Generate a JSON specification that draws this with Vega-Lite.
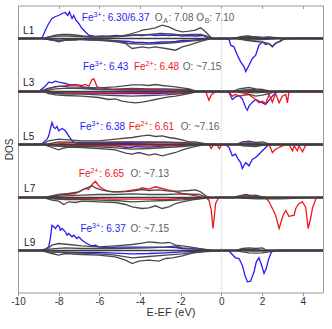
{
"$schema":"https://vega.github.io/schema/vega-lite/v6.json",
"width":305,"height":287,
"autosize":"none",
"padding":{"left":18,"top":5.5,"right":9,"bottom":36.5},
"config":{"font":"Liberation Sans","view":{"stroke":"#9a9a9a","strokeWidth":1},"axis":{"grid":false}},
"datasets":{
"zero":[{"e":0}],
"panels":[{"p":1},{"p":3},{"p":5},{"p":7},{"p":9}],
"notes":[
{"p":1,"e":-9.75,"v":8,"t":"L1","k":"T","z":"n"},
{"p":3,"e":-9.75,"v":8.5,"t":"L3","k":"T","z":"n"},
{"p":5,"e":-9.75,"v":8,"t":"L5","k":"T","z":"n"},
{"p":7,"e":-9.7,"v":9,"t":"L7","k":"T","z":"n"},
{"p":9,"e":-9.7,"v":8,"t":"L9","k":"T","z":"n"},
{"p":1,"e":-6.86,"v":20.7,"t":"Fe","k":"B1","z":"n"},
{"p":1,"e":-6.285,"v":20.7,"t":"3+","k":"B1","z":"u"},
{"p":1,"e":-5.86,"v":20.7,"t":": 6.30/6.37","k":"B1","z":"n"},
{"p":1,"e":-3.27,"v":20.7,"t":"O","k":"GT","z":"n"},
{"p":1,"e":-2.86,"v":20.7,"t":"A","k":"GT","z":"s"},
{"p":1,"e":-2.6,"v":20.7,"t":": 7.08 O","k":"GT","z":"n"},
{"p":1,"e":-0.82,"v":20.7,"t":"B","k":"GT","z":"s"},
{"p":1,"e":-0.59,"v":20.7,"t":": 7.10","k":"GT","z":"n"},
{"p":3,"e":-6.8,"v":25,"t":"Fe","k":"B1","z":"n"},
{"p":3,"e":-6.225,"v":25,"t":"3+","k":"B1","z":"u"},
{"p":3,"e":-5.8,"v":25,"t":": 6.43","k":"B1","z":"n"},
{"p":3,"e":-4.3,"v":25,"t":"Fe","k":"R1","z":"n"},
{"p":3,"e":-3.725,"v":25,"t":"2+","k":"R1","z":"u"},
{"p":3,"e":-3.31,"v":25,"t":": 6.48","k":"R1","z":"n"},
{"p":3,"e":-1.9,"v":25,"t":"O: ~7.15","k":"GT","z":"n"},
{"p":5,"e":-6.96,"v":18,"t":"Fe","k":"B1","z":"n"},
{"p":5,"e":-6.385,"v":18,"t":"3+","k":"B1","z":"u"},
{"p":5,"e":-5.96,"v":18,"t":": 6.38","k":"B1","z":"n"},
{"p":5,"e":-4.55,"v":18,"t":"Fe","k":"R1","z":"n"},
{"p":5,"e":-3.975,"v":18,"t":"2+","k":"R1","z":"u"},
{"p":5,"e":-3.55,"v":18,"t":": 6.61","k":"R1","z":"n"},
{"p":5,"e":-2.0,"v":18,"t":"O: ~7.16","k":"GT","z":"n"},
{"p":7,"e":-7.01,"v":23.3,"t":"Fe","k":"R1","z":"n"},
{"p":7,"e":-6.435,"v":23.3,"t":"2+","k":"R1","z":"u"},
{"p":7,"e":-6.01,"v":23.3,"t":": 6.65","k":"R1","z":"n"},
{"p":7,"e":-4.47,"v":23.3,"t":"O: ~7.13","k":"GT","z":"n"},
{"p":9,"e":-6.93,"v":22,"t":"Fe","k":"B1","z":"n"},
{"p":9,"e":-6.355,"v":22,"t":"3+","k":"B1","z":"u"},
{"p":9,"e":-5.93,"v":22,"t":": 6.37","k":"B1","z":"n"},
{"p":9,"e":-4.47,"v":22,"t":"O: ~7.15","k":"GT","z":"n"}
],
"dos":[
{"p":1,"k":"B1","e":-10,"v":0},{"p":1,"k":"B1","e":-9.15,"v":0},{"p":1,"k":"B1","e":-8.82,"v":0.3},{"p":1,"k":"B1","e":-8.66,"v":8},{"p":1,"k":"B1","e":-8.49,"v":15},{"p":1,"k":"B1","e":-8.33,"v":20},{"p":1,"k":"B1","e":-8.16,"v":22},{"p":1,"k":"B1","e":-8.0,"v":23},{"p":1,"k":"B1","e":-7.83,"v":25},{"p":1,"k":"B1","e":-7.67,"v":26},{"p":1,"k":"B1","e":-7.55,"v":23},{"p":1,"k":"B1","e":-7.47,"v":26.5},{"p":1,"k":"B1","e":-7.34,"v":20},{"p":1,"k":"B1","e":-7.26,"v":23},{"p":1,"k":"B1","e":-7.14,"v":18},{"p":1,"k":"B1","e":-7.01,"v":15},{"p":1,"k":"B1","e":-6.85,"v":10},{"p":1,"k":"B1","e":-6.69,"v":6.7},{"p":1,"k":"B1","e":-6.52,"v":3.3},{"p":1,"k":"B1","e":-6.19,"v":2},{"p":1,"k":"B1","e":-5.86,"v":2.5},{"p":1,"k":"B1","e":-5.54,"v":2},{"p":1,"k":"B1","e":-5.21,"v":3},{"p":1,"k":"B1","e":-4.88,"v":2.5},{"p":1,"k":"B1","e":-4.55,"v":3},{"p":1,"k":"B1","e":-4.22,"v":3.5},{"p":1,"k":"B1","e":-3.89,"v":3},{"p":1,"k":"B1","e":-3.57,"v":4},{"p":1,"k":"B1","e":-3.24,"v":3},{"p":1,"k":"B1","e":-2.91,"v":3.5},{"p":1,"k":"B1","e":-2.58,"v":3},{"p":1,"k":"B1","e":-2.25,"v":3.5},{"p":1,"k":"B1","e":-1.92,"v":2.5},{"p":1,"k":"B1","e":-1.59,"v":3},{"p":1,"k":"B1","e":-1.27,"v":2.5},{"p":1,"k":"B1","e":-0.94,"v":3},{"p":1,"k":"B1","e":-0.61,"v":0.5},{"p":1,"k":"B1","e":-0.4,"v":0},{"p":1,"k":"B1","e":0.7,"v":0},{"p":1,"k":"B1","e":1.03,"v":1.5},{"p":1,"k":"B1","e":1.36,"v":2},{"p":1,"k":"B1","e":1.69,"v":1.5},{"p":1,"k":"B1","e":2.02,"v":1},{"p":1,"k":"B1","e":2.35,"v":1.5},{"p":1,"k":"B1","e":2.67,"v":0.5},{"p":1,"k":"B1","e":3.0,"v":0},{"p":1,"k":"B1","e":5,"v":0},
{"p":1,"k":"B2","e":-10,"v":0},{"p":1,"k":"B2","e":-8.8,"v":0},{"p":1,"k":"B2","e":-8.49,"v":-1},{"p":1,"k":"B2","e":-8.0,"v":-2},{"p":1,"k":"B2","e":-7.5,"v":-1},{"p":1,"k":"B2","e":-7.0,"v":-1},{"p":1,"k":"B2","e":-6.5,"v":-1.5},{"p":1,"k":"B2","e":-6.0,"v":-1.5},{"p":1,"k":"B2","e":-5.5,"v":-2},{"p":1,"k":"B2","e":-5.0,"v":-2.5},{"p":1,"k":"B2","e":-4.55,"v":-3},{"p":1,"k":"B2","e":-4.22,"v":-4},{"p":1,"k":"B2","e":-3.89,"v":-4},{"p":1,"k":"B2","e":-3.57,"v":-4.5},{"p":1,"k":"B2","e":-3.24,"v":-4},{"p":1,"k":"B2","e":-2.91,"v":-3.5},{"p":1,"k":"B2","e":-2.58,"v":-3.5},{"p":1,"k":"B2","e":-2.25,"v":-3},{"p":1,"k":"B2","e":-1.92,"v":-2},{"p":1,"k":"B2","e":-1.59,"v":-2},{"p":1,"k":"B2","e":-1.27,"v":-1.5},{"p":1,"k":"B2","e":-0.94,"v":-1},{"p":1,"k":"B2","e":-0.61,"v":-0.3},{"p":1,"k":"B2","e":0.2,"v":0},{"p":1,"k":"B2","e":0.38,"v":-1},{"p":1,"k":"B2","e":0.46,"v":-6.7},{"p":1,"k":"B2","e":0.62,"v":-8.3},{"p":1,"k":"B2","e":0.79,"v":-16.7},{"p":1,"k":"B2","e":0.95,"v":-23.3},{"p":1,"k":"B2","e":1.12,"v":-28.3},{"p":1,"k":"B2","e":1.2,"v":-33},{"p":1,"k":"B2","e":1.36,"v":-26.7},{"p":1,"k":"B2","e":1.53,"v":-20},{"p":1,"k":"B2","e":1.69,"v":-16.7},{"p":1,"k":"B2","e":1.85,"v":-6.7},{"p":1,"k":"B2","e":2.02,"v":-3.3},{"p":1,"k":"B2","e":2.18,"v":-6},{"p":1,"k":"B2","e":2.35,"v":-5},{"p":1,"k":"B2","e":2.51,"v":-8.3},{"p":1,"k":"B2","e":2.67,"v":-5},{"p":1,"k":"B2","e":2.84,"v":-3.3},{"p":1,"k":"B2","e":3.0,"v":-0.7},{"p":1,"k":"B2","e":3.2,"v":0},{"p":1,"k":"B2","e":5,"v":0},
{"p":1,"k":"G1","e":-10,"v":0},{"p":1,"k":"G1","e":-9.0,"v":0},{"p":1,"k":"G1","e":-8.66,"v":0.7},{"p":1,"k":"G1","e":-8.16,"v":3.3},{"p":1,"k":"G1","e":-7.83,"v":4},{"p":1,"k":"G1","e":-7.51,"v":4},{"p":1,"k":"G1","e":-7.18,"v":3.5},{"p":1,"k":"G1","e":-6.85,"v":2.7},{"p":1,"k":"G1","e":-6.52,"v":2},{"p":1,"k":"G1","e":-6.03,"v":1.7},{"p":1,"k":"G1","e":-5.54,"v":2.3},{"p":1,"k":"G1","e":-5.21,"v":2.7},{"p":1,"k":"G1","e":-4.88,"v":2.5},{"p":1,"k":"G1","e":-4.55,"v":4},{"p":1,"k":"G1","e":-4.39,"v":5},{"p":1,"k":"G1","e":-4.06,"v":7},{"p":1,"k":"G1","e":-3.89,"v":8.3},{"p":1,"k":"G1","e":-3.57,"v":9.3},{"p":1,"k":"G1","e":-3.24,"v":10.7},{"p":1,"k":"G1","e":-2.91,"v":13.3},{"p":1,"k":"G1","e":-2.58,"v":11.7},{"p":1,"k":"G1","e":-2.25,"v":8.3},{"p":1,"k":"G1","e":-1.92,"v":6.7},{"p":1,"k":"G1","e":-1.59,"v":7.3},{"p":1,"k":"G1","e":-1.27,"v":8.3},{"p":1,"k":"G1","e":-1.02,"v":10.7},{"p":1,"k":"G1","e":-0.86,"v":8.3},{"p":1,"k":"G1","e":-0.61,"v":3.3},{"p":1,"k":"G1","e":-0.45,"v":0},{"p":1,"k":"G1","e":0.4,"v":0},{"p":1,"k":"G1","e":0.7,"v":0.5},{"p":1,"k":"G1","e":1.0,"v":2},{"p":1,"k":"G1","e":1.3,"v":2.5},{"p":1,"k":"G1","e":1.6,"v":1.5},{"p":1,"k":"G1","e":1.9,"v":1},{"p":1,"k":"G1","e":2.2,"v":0.5},{"p":1,"k":"G1","e":2.6,"v":1},{"p":1,"k":"G1","e":3.0,"v":0.3},{"p":1,"k":"G1","e":3.5,"v":0.3},{"p":1,"k":"G1","e":4.0,"v":0.5},{"p":1,"k":"G1","e":4.5,"v":0.3},{"p":1,"k":"G1","e":5,"v":0.3},
{"p":1,"k":"G2","e":-10,"v":0},{"p":1,"k":"G2","e":-8.7,"v":0},{"p":1,"k":"G2","e":-8.49,"v":1.5},{"p":1,"k":"G2","e":-8.0,"v":2.5},{"p":1,"k":"G2","e":-7.5,"v":2.5},{"p":1,"k":"G2","e":-7.0,"v":2},{"p":1,"k":"G2","e":-6.5,"v":1.5},{"p":1,"k":"G2","e":-6.0,"v":1.5},{"p":1,"k":"G2","e":-5.5,"v":1.5},{"p":1,"k":"G2","e":-5.0,"v":2},{"p":1,"k":"G2","e":-4.55,"v":3},{"p":1,"k":"G2","e":-4.0,"v":3.5},{"p":1,"k":"G2","e":-3.5,"v":4},{"p":1,"k":"G2","e":-3.0,"v":5},{"p":1,"k":"G2","e":-2.5,"v":4.5},{"p":1,"k":"G2","e":-2.0,"v":3.5},{"p":1,"k":"G2","e":-1.5,"v":4},{"p":1,"k":"G2","e":-1.0,"v":4},{"p":1,"k":"G2","e":-0.7,"v":2.5},{"p":1,"k":"G2","e":-0.5,"v":0.5},{"p":1,"k":"G2","e":-0.3,"v":0},{"p":1,"k":"G2","e":0.5,"v":0},{"p":1,"k":"G2","e":1.0,"v":1},{"p":1,"k":"G2","e":1.4,"v":1.2},{"p":1,"k":"G2","e":1.8,"v":0.5},{"p":1,"k":"G2","e":2.3,"v":0},{"p":1,"k":"G2","e":5,"v":0},
{"p":1,"k":"G3","e":-10,"v":0},{"p":1,"k":"G3","e":-8.8,"v":0},{"p":1,"k":"G3","e":-8.49,"v":-0.7},{"p":1,"k":"G3","e":-8.0,"v":-3.3},{"p":1,"k":"G3","e":-7.67,"v":-1.7},{"p":1,"k":"G3","e":-7.2,"v":-1.5},{"p":1,"k":"G3","e":-6.85,"v":-0.7},{"p":1,"k":"G3","e":-6.19,"v":-1.7},{"p":1,"k":"G3","e":-5.54,"v":-2.7},{"p":1,"k":"G3","e":-5.05,"v":-3.5},{"p":1,"k":"G3","e":-4.71,"v":-5},{"p":1,"k":"G3","e":-4.39,"v":-10},{"p":1,"k":"G3","e":-3.89,"v":-8.3},{"p":1,"k":"G3","e":-3.57,"v":-9.3},{"p":1,"k":"G3","e":-3.24,"v":-8.3},{"p":1,"k":"G3","e":-2.74,"v":-10},{"p":1,"k":"G3","e":-2.25,"v":-11.7},{"p":1,"k":"G3","e":-1.92,"v":-8.3},{"p":1,"k":"G3","e":-1.59,"v":-6.7},{"p":1,"k":"G3","e":-1.1,"v":-3.3},{"p":1,"k":"G3","e":-0.61,"v":-0.7},{"p":1,"k":"G3","e":-0.4,"v":0},{"p":1,"k":"G3","e":0.7,"v":0},{"p":1,"k":"G3","e":1.0,"v":-1},{"p":1,"k":"G3","e":1.3,"v":-2},{"p":1,"k":"G3","e":1.7,"v":-3},{"p":1,"k":"G3","e":2.0,"v":-3.5},{"p":1,"k":"G3","e":2.35,"v":-5},{"p":1,"k":"G3","e":2.5,"v":-8},{"p":1,"k":"G3","e":2.7,"v":-4},{"p":1,"k":"G3","e":2.9,"v":-3},{"p":1,"k":"G3","e":3.1,"v":-0.5},{"p":1,"k":"G3","e":3.5,"v":0},{"p":1,"k":"G3","e":5,"v":0},
{"p":1,"k":"G4","e":-10,"v":0},{"p":1,"k":"G4","e":-8.8,"v":0},{"p":1,"k":"G4","e":-8.3,"v":-1.5},{"p":1,"k":"G4","e":-7.8,"v":-2},{"p":1,"k":"G4","e":-7.3,"v":-1},{"p":1,"k":"G4","e":-6.8,"v":-0.7},{"p":1,"k":"G4","e":-6.0,"v":-1.2},{"p":1,"k":"G4","e":-5.5,"v":-1.7},{"p":1,"k":"G4","e":-5.0,"v":-3},{"p":1,"k":"G4","e":-4.55,"v":-5},{"p":1,"k":"G4","e":-4.0,"v":-5.7},{"p":1,"k":"G4","e":-3.57,"v":-5.7},{"p":1,"k":"G4","e":-3.0,"v":-5},{"p":1,"k":"G4","e":-2.5,"v":-4.5},{"p":1,"k":"G4","e":-2.0,"v":-3.5},{"p":1,"k":"G4","e":-1.5,"v":-2.5},{"p":1,"k":"G4","e":-1.0,"v":-1.5},{"p":1,"k":"G4","e":-0.61,"v":-0.3},{"p":1,"k":"G4","e":-0.4,"v":0},{"p":1,"k":"G4","e":0.8,"v":0},{"p":1,"k":"G4","e":1.2,"v":-1},{"p":1,"k":"G4","e":1.6,"v":-1.5},{"p":1,"k":"G4","e":2.0,"v":-1},{"p":1,"k":"G4","e":2.4,"v":-0.5},{"p":1,"k":"G4","e":2.8,"v":0},{"p":1,"k":"G4","e":5,"v":0},
{"p":3,"k":"B1","e":-10,"v":0},{"p":3,"k":"B1","e":-8.98,"v":0},{"p":3,"k":"B1","e":-8.66,"v":5.3},{"p":3,"k":"B1","e":-8.49,"v":9.3},{"p":3,"k":"B1","e":-8.33,"v":8.7},{"p":3,"k":"B1","e":-8.16,"v":10.3},{"p":3,"k":"B1","e":-8.0,"v":9.3},{"p":3,"k":"B1","e":-7.83,"v":8.7},{"p":3,"k":"B1","e":-7.67,"v":8},{"p":3,"k":"B1","e":-7.51,"v":7},{"p":3,"k":"B1","e":-7.34,"v":6.3},{"p":3,"k":"B1","e":-7.18,"v":7},{"p":3,"k":"B1","e":-7.01,"v":6},{"p":3,"k":"B1","e":-6.85,"v":4.7},{"p":3,"k":"B1","e":-6.52,"v":3.3},{"p":3,"k":"B1","e":-6.19,"v":2.7},{"p":3,"k":"B1","e":-5.86,"v":2},{"p":3,"k":"B1","e":-5.21,"v":1.7},{"p":3,"k":"B1","e":-4.39,"v":1.3},{"p":3,"k":"B1","e":-3.57,"v":1.3},{"p":3,"k":"B1","e":-2.74,"v":1.3},{"p":3,"k":"B1","e":-1.92,"v":1.3},{"p":3,"k":"B1","e":-1.59,"v":2},{"p":3,"k":"B1","e":-1.43,"v":0.7},{"p":3,"k":"B1","e":-1.18,"v":0},{"p":3,"k":"B1","e":0.87,"v":0},{"p":3,"k":"B1","e":1.2,"v":1},{"p":3,"k":"B1","e":1.53,"v":0.5},{"p":3,"k":"B1","e":1.9,"v":0},{"p":3,"k":"B1","e":5,"v":0},
{"p":3,"k":"B2","e":-10,"v":0},{"p":3,"k":"B2","e":-8.66,"v":0},{"p":3,"k":"B2","e":-8.5,"v":-0.7},{"p":3,"k":"B2","e":-7.67,"v":-1.3},{"p":3,"k":"B2","e":-6.85,"v":-1.3},{"p":3,"k":"B2","e":-5.21,"v":-2},{"p":3,"k":"B2","e":-3.57,"v":-2},{"p":3,"k":"B2","e":-1.92,"v":-1.3},{"p":3,"k":"B2","e":-1.27,"v":-0.3},{"p":3,"k":"B2","e":-1.0,"v":0},{"p":3,"k":"B2","e":0.2,"v":0},{"p":3,"k":"B2","e":0.38,"v":-1.3},{"p":3,"k":"B2","e":0.54,"v":-8},{"p":3,"k":"B2","e":0.7,"v":-5.3},{"p":3,"k":"B2","e":0.87,"v":-4},{"p":3,"k":"B2","e":1.03,"v":-7.3},{"p":3,"k":"B2","e":1.2,"v":-16.3},{"p":3,"k":"B2","e":1.28,"v":-18.7},{"p":3,"k":"B2","e":1.36,"v":-14.7},{"p":3,"k":"B2","e":1.53,"v":-10.7},{"p":3,"k":"B2","e":1.69,"v":-8},{"p":3,"k":"B2","e":1.85,"v":-9.7},{"p":3,"k":"B2","e":2.02,"v":-11.3},{"p":3,"k":"B2","e":2.18,"v":-13},{"p":3,"k":"B2","e":2.35,"v":-8.7},{"p":3,"k":"B2","e":2.51,"v":-4.7},{"p":3,"k":"B2","e":2.67,"v":-1.3},{"p":3,"k":"B2","e":2.84,"v":0},{"p":3,"k":"B2","e":5,"v":0},
{"p":3,"k":"R1","e":-10,"v":0},{"p":3,"k":"R1","e":-8.82,"v":0},{"p":3,"k":"R1","e":-8.49,"v":2.7},{"p":3,"k":"R1","e":-8.16,"v":4.7},{"p":3,"k":"R1","e":-7.83,"v":5.3},{"p":3,"k":"R1","e":-7.51,"v":6},{"p":3,"k":"R1","e":-7.18,"v":6.7},{"p":3,"k":"R1","e":-6.85,"v":6},{"p":3,"k":"R1","e":-6.69,"v":7},{"p":3,"k":"R1","e":-6.52,"v":5.3},{"p":3,"k":"R1","e":-6.36,"v":12},{"p":3,"k":"R1","e":-6.27,"v":12.7},{"p":3,"k":"R1","e":-6.19,"v":8.7},{"p":3,"k":"R1","e":-6.11,"v":4.7},{"p":3,"k":"R1","e":-5.86,"v":3.3},{"p":3,"k":"R1","e":-5.54,"v":2.7},{"p":3,"k":"R1","e":-5.21,"v":2},{"p":3,"k":"R1","e":-3.57,"v":2},{"p":3,"k":"R1","e":-2.74,"v":1.7},{"p":3,"k":"R1","e":-1.92,"v":1.3},{"p":3,"k":"R1","e":-1.43,"v":0.7},{"p":3,"k":"R1","e":-1.18,"v":0},{"p":3,"k":"R1","e":0.7,"v":0},{"p":3,"k":"R1","e":1.03,"v":1},{"p":3,"k":"R1","e":1.36,"v":1.3},{"p":3,"k":"R1","e":1.69,"v":0.7},{"p":3,"k":"R1","e":2.0,"v":0},{"p":3,"k":"R1","e":5,"v":0},
{"p":3,"k":"R2","e":-10,"v":0},{"p":3,"k":"R2","e":-8.6,"v":0},{"p":3,"k":"R2","e":-8.49,"v":-1.3},{"p":3,"k":"R2","e":-6.85,"v":-1.7},{"p":3,"k":"R2","e":-5.21,"v":-1.3},{"p":3,"k":"R2","e":-3.57,"v":-1},{"p":3,"k":"R2","e":-1.92,"v":-0.7},{"p":3,"k":"R2","e":-1.2,"v":0},{"p":3,"k":"R2","e":-0.77,"v":0},{"p":3,"k":"R2","e":-0.61,"v":-8.7},{"p":3,"k":"R2","e":-0.48,"v":-3},{"p":3,"k":"R2","e":-0.36,"v":-1.3},{"p":3,"k":"R2","e":-0.28,"v":0},{"p":3,"k":"R2","e":0.38,"v":-0.7},{"p":3,"k":"R2","e":0.54,"v":-4.7},{"p":3,"k":"R2","e":0.7,"v":-3},{"p":3,"k":"R2","e":0.87,"v":-4.7},{"p":3,"k":"R2","e":1.03,"v":-4},{"p":3,"k":"R2","e":1.36,"v":-3},{"p":3,"k":"R2","e":1.69,"v":-8},{"p":3,"k":"R2","e":1.85,"v":-11.3},{"p":3,"k":"R2","e":2.02,"v":-9.7},{"p":3,"k":"R2","e":2.18,"v":-12},{"p":3,"k":"R2","e":2.35,"v":-3},{"p":3,"k":"R2","e":2.51,"v":-10.7},{"p":3,"k":"R2","e":2.67,"v":-2},{"p":3,"k":"R2","e":2.84,"v":-11.3},{"p":3,"k":"R2","e":3.0,"v":-4.7},{"p":3,"k":"R2","e":3.17,"v":-3},{"p":3,"k":"R2","e":3.25,"v":-11.3},{"p":3,"k":"R2","e":3.33,"v":0},{"p":3,"k":"R2","e":5,"v":0},
{"p":3,"k":"G1","e":-10,"v":0},{"p":3,"k":"G1","e":-8.98,"v":0},{"p":3,"k":"G1","e":-8.49,"v":3.3},{"p":3,"k":"G1","e":-8.0,"v":5.3},{"p":3,"k":"G1","e":-7.51,"v":4.7},{"p":3,"k":"G1","e":-6.85,"v":4.3},{"p":3,"k":"G1","e":-6.03,"v":3.7},{"p":3,"k":"G1","e":-5.21,"v":4.7},{"p":3,"k":"G1","e":-4.88,"v":5.3},{"p":3,"k":"G1","e":-4.39,"v":6.7},{"p":3,"k":"G1","e":-3.89,"v":6.7},{"p":3,"k":"G1","e":-3.57,"v":6},{"p":3,"k":"G1","e":-3.24,"v":7},{"p":3,"k":"G1","e":-2.91,"v":6},{"p":3,"k":"G1","e":-2.58,"v":5.3},{"p":3,"k":"G1","e":-2.25,"v":4.7},{"p":3,"k":"G1","e":-1.92,"v":3.7},{"p":3,"k":"G1","e":-1.59,"v":2.7},{"p":3,"k":"G1","e":-1.27,"v":0.7},{"p":3,"k":"G1","e":-1.1,"v":0},{"p":3,"k":"G1","e":0.54,"v":0},{"p":3,"k":"G1","e":0.87,"v":2.7},{"p":3,"k":"G1","e":1.36,"v":4},{"p":3,"k":"G1","e":1.69,"v":2.7},{"p":3,"k":"G1","e":2.02,"v":2},{"p":3,"k":"G1","e":2.35,"v":0.7},{"p":3,"k":"G1","e":2.67,"v":0},{"p":3,"k":"G1","e":3.5,"v":0.3},{"p":3,"k":"G1","e":4.2,"v":0.3},{"p":3,"k":"G1","e":5,"v":0.3},
{"p":3,"k":"G2","e":-10,"v":0},{"p":3,"k":"G2","e":-8.82,"v":0},{"p":3,"k":"G2","e":-8.16,"v":2.7},{"p":3,"k":"G2","e":-7.51,"v":3.3},{"p":3,"k":"G2","e":-6.85,"v":3},{"p":3,"k":"G2","e":-6.03,"v":2},{"p":3,"k":"G2","e":-5.21,"v":2.3},{"p":3,"k":"G2","e":-4.39,"v":3},{"p":3,"k":"G2","e":-3.57,"v":2.7},{"p":3,"k":"G2","e":-2.74,"v":2.7},{"p":3,"k":"G2","e":-1.92,"v":2},{"p":3,"k":"G2","e":-1.27,"v":0.3},{"p":3,"k":"G2","e":-1.1,"v":0},{"p":3,"k":"G2","e":0.7,"v":0},{"p":3,"k":"G2","e":1.03,"v":1.3},{"p":3,"k":"G2","e":1.69,"v":2},{"p":3,"k":"G2","e":2.35,"v":0},{"p":3,"k":"G2","e":5,"v":0},
{"p":3,"k":"G3","e":-10,"v":0},{"p":3,"k":"G3","e":-8.82,"v":0},{"p":3,"k":"G3","e":-8.49,"v":-2},{"p":3,"k":"G3","e":-8.16,"v":-3.3},{"p":3,"k":"G3","e":-7.67,"v":-4},{"p":3,"k":"G3","e":-6.85,"v":-4.7},{"p":3,"k":"G3","e":-6.03,"v":-6},{"p":3,"k":"G3","e":-5.54,"v":-8},{"p":3,"k":"G3","e":-5.21,"v":-7.3},{"p":3,"k":"G3","e":-4.88,"v":-9.7},{"p":3,"k":"G3","e":-4.55,"v":-10.7},{"p":3,"k":"G3","e":-4.22,"v":-11.3},{"p":3,"k":"G3","e":-3.89,"v":-10.7},{"p":3,"k":"G3","e":-3.57,"v":-9.3},{"p":3,"k":"G3","e":-3.24,"v":-8},{"p":3,"k":"G3","e":-2.91,"v":-6.7},{"p":3,"k":"G3","e":-2.58,"v":-5.3},{"p":3,"k":"G3","e":-2.25,"v":-4.7},{"p":3,"k":"G3","e":-1.92,"v":-3.3},{"p":3,"k":"G3","e":-1.59,"v":-2},{"p":3,"k":"G3","e":-1.18,"v":0},{"p":3,"k":"G3","e":0.7,"v":0},{"p":3,"k":"G3","e":1.03,"v":-1.3},{"p":3,"k":"G3","e":1.36,"v":-2.7},{"p":3,"k":"G3","e":1.69,"v":-4.7},{"p":3,"k":"G3","e":2.02,"v":-3.7},{"p":3,"k":"G3","e":2.35,"v":-2},{"p":3,"k":"G3","e":2.67,"v":0},{"p":3,"k":"G3","e":5,"v":0},
{"p":3,"k":"G4","e":-10,"v":0},{"p":3,"k":"G4","e":-8.66,"v":0},{"p":3,"k":"G4","e":-8.16,"v":-2},{"p":3,"k":"G4","e":-7.51,"v":-2.7},{"p":3,"k":"G4","e":-6.85,"v":-2.7},{"p":3,"k":"G4","e":-6.03,"v":-3.3},{"p":3,"k":"G4","e":-5.21,"v":-4},{"p":3,"k":"G4","e":-4.39,"v":-4.7},{"p":3,"k":"G4","e":-3.57,"v":-4},{"p":3,"k":"G4","e":-2.74,"v":-3.3},{"p":3,"k":"G4","e":-1.92,"v":-2},{"p":3,"k":"G4","e":-1.27,"v":-0.3},{"p":3,"k":"G4","e":-1.1,"v":0},{"p":3,"k":"G4","e":0.9,"v":0},{"p":3,"k":"G4","e":1.2,"v":-0.7},{"p":3,"k":"G4","e":1.69,"v":-1.3},{"p":3,"k":"G4","e":2.2,"v":-0.5},{"p":3,"k":"G4","e":2.6,"v":0},{"p":3,"k":"G4","e":5,"v":0},
{"p":5,"k":"B1","e":-10,"v":0},{"p":5,"k":"B1","e":-9.15,"v":0},{"p":5,"k":"B1","e":-8.82,"v":0.7},{"p":5,"k":"B1","e":-8.57,"v":5.3},{"p":5,"k":"B1","e":-8.49,"v":8.7},{"p":5,"k":"B1","e":-8.41,"v":15.3},{"p":5,"k":"B1","e":-8.33,"v":22},{"p":5,"k":"B1","e":-8.24,"v":17},{"p":5,"k":"B1","e":-8.16,"v":16},{"p":5,"k":"B1","e":-8.08,"v":18},{"p":5,"k":"B1","e":-8.0,"v":13.7},{"p":5,"k":"B1","e":-7.83,"v":16},{"p":5,"k":"B1","e":-7.67,"v":13.7},{"p":5,"k":"B1","e":-7.51,"v":8.7},{"p":5,"k":"B1","e":-7.34,"v":3.7},{"p":5,"k":"B1","e":-7.18,"v":1.3},{"p":5,"k":"B1","e":-6.85,"v":1},{"p":5,"k":"B1","e":-5.21,"v":1},{"p":5,"k":"B1","e":-3.57,"v":1.3},{"p":5,"k":"B1","e":-2.74,"v":2},{"p":5,"k":"B1","e":-1.92,"v":1.3},{"p":5,"k":"B1","e":-1.1,"v":0.7},{"p":5,"k":"B1","e":-0.77,"v":0},{"p":5,"k":"B1","e":0.87,"v":0},{"p":5,"k":"B1","e":1.03,"v":1.3},{"p":5,"k":"B1","e":1.36,"v":1.7},{"p":5,"k":"B1","e":1.69,"v":0.7},{"p":5,"k":"B1","e":2.0,"v":0},{"p":5,"k":"B1","e":5,"v":0},
{"p":5,"k":"B2","e":-10,"v":0},{"p":5,"k":"B2","e":-8.6,"v":0},{"p":5,"k":"B2","e":-8.49,"v":-0.7},{"p":5,"k":"B2","e":-6.85,"v":-1.3},{"p":5,"k":"B2","e":-5.21,"v":-1.3},{"p":5,"k":"B2","e":-4.55,"v":-3.3},{"p":5,"k":"B2","e":-4.22,"v":-2},{"p":5,"k":"B2","e":-3.57,"v":-2.7},{"p":5,"k":"B2","e":-2.74,"v":-1.3},{"p":5,"k":"B2","e":-1.92,"v":-1},{"p":5,"k":"B2","e":-1.1,"v":-0.3},{"p":5,"k":"B2","e":-0.8,"v":0},{"p":5,"k":"B2","e":0.21,"v":0},{"p":5,"k":"B2","e":0.38,"v":-3},{"p":5,"k":"B2","e":0.54,"v":-11.3},{"p":5,"k":"B2","e":0.7,"v":-9.7},{"p":5,"k":"B2","e":0.83,"v":-14.7},{"p":5,"k":"B2","e":0.95,"v":-18},{"p":5,"k":"B2","e":1.03,"v":-24},{"p":5,"k":"B2","e":1.2,"v":-18},{"p":5,"k":"B2","e":1.36,"v":-21.3},{"p":5,"k":"B2","e":1.53,"v":-14.7},{"p":5,"k":"B2","e":1.69,"v":-13},{"p":5,"k":"B2","e":1.85,"v":-9.7},{"p":5,"k":"B2","e":2.02,"v":-6.3},{"p":5,"k":"B2","e":2.18,"v":-3},{"p":5,"k":"B2","e":2.35,"v":0},{"p":5,"k":"B2","e":5,"v":0},
{"p":5,"k":"R1","e":-10,"v":0},{"p":5,"k":"R1","e":-8.3,"v":0},{"p":5,"k":"R1","e":-7.67,"v":1.3},{"p":5,"k":"R1","e":-6.85,"v":2},{"p":5,"k":"R1","e":-6.03,"v":2},{"p":5,"k":"R1","e":-5.21,"v":2.7},{"p":5,"k":"R1","e":-4.39,"v":2.7},{"p":5,"k":"R1","e":-3.57,"v":2},{"p":5,"k":"R1","e":-2.74,"v":2},{"p":5,"k":"R1","e":-1.92,"v":1.3},{"p":5,"k":"R1","e":-1.1,"v":1.3},{"p":5,"k":"R1","e":-0.77,"v":0},{"p":5,"k":"R1","e":1.0,"v":0},{"p":5,"k":"R1","e":1.36,"v":1.3},{"p":5,"k":"R1","e":1.69,"v":0.7},{"p":5,"k":"R1","e":2.0,"v":0},{"p":5,"k":"R1","e":5,"v":0},
{"p":5,"k":"R2","e":-10,"v":0},{"p":5,"k":"R2","e":-8.6,"v":0},{"p":5,"k":"R2","e":-8.49,"v":-0.7},{"p":5,"k":"R2","e":-6.85,"v":-1},{"p":5,"k":"R2","e":-5.21,"v":-1.3},{"p":5,"k":"R2","e":-3.57,"v":-1.3},{"p":5,"k":"R2","e":-1.92,"v":-0.7},{"p":5,"k":"R2","e":-1.1,"v":-0.3},{"p":5,"k":"R2","e":-0.77,"v":0},{"p":5,"k":"R2","e":-0.6,"v":0},{"p":5,"k":"R2","e":-0.5,"v":-4},{"p":5,"k":"R2","e":-0.4,"v":-0.7},{"p":5,"k":"R2","e":-0.2,"v":-0.7},{"p":5,"k":"R2","e":-0.1,"v":-4.3},{"p":5,"k":"R2","e":0.0,"v":-0.7},{"p":5,"k":"R2","e":0.05,"v":0},{"p":5,"k":"R2","e":2.35,"v":0},{"p":5,"k":"R2","e":2.51,"v":-8},{"p":5,"k":"R2","e":2.67,"v":-4.7},{"p":5,"k":"R2","e":2.84,"v":-3},{"p":5,"k":"R2","e":3.0,"v":-1.3},{"p":5,"k":"R2","e":3.17,"v":-0.7},{"p":5,"k":"R2","e":3.33,"v":0},{"p":5,"k":"R2","e":3.5,"v":-6.3},{"p":5,"k":"R2","e":3.58,"v":-1.3},{"p":5,"k":"R2","e":3.74,"v":-6.3},{"p":5,"k":"R2","e":3.82,"v":-1.3},{"p":5,"k":"R2","e":3.99,"v":-7.3},{"p":5,"k":"R2","e":4.15,"v":-0.7},{"p":5,"k":"R2","e":4.32,"v":0},{"p":5,"k":"R2","e":5,"v":0},
{"p":5,"k":"G1","e":-10,"v":0},{"p":5,"k":"G1","e":-8.82,"v":0},{"p":5,"k":"G1","e":-8.49,"v":3.7},{"p":5,"k":"G1","e":-8.0,"v":5.3},{"p":5,"k":"G1","e":-7.51,"v":4.7},{"p":5,"k":"G1","e":-6.85,"v":3.7},{"p":5,"k":"G1","e":-6.03,"v":3.7},{"p":5,"k":"G1","e":-5.21,"v":5.3},{"p":5,"k":"G1","e":-4.39,"v":7},{"p":5,"k":"G1","e":-3.89,"v":8.7},{"p":5,"k":"G1","e":-3.57,"v":9.3},{"p":5,"k":"G1","e":-3.24,"v":8},{"p":5,"k":"G1","e":-2.91,"v":8.7},{"p":5,"k":"G1","e":-2.58,"v":7},{"p":5,"k":"G1","e":-2.25,"v":6},{"p":5,"k":"G1","e":-1.92,"v":4.7},{"p":5,"k":"G1","e":-1.59,"v":2.7},{"p":5,"k":"G1","e":-1.27,"v":2.7},{"p":5,"k":"G1","e":-0.94,"v":1.3},{"p":5,"k":"G1","e":-0.61,"v":0},{"p":5,"k":"G1","e":0.7,"v":0},{"p":5,"k":"G1","e":1.03,"v":2.7},{"p":5,"k":"G1","e":1.36,"v":3.3},{"p":5,"k":"G1","e":1.69,"v":2},{"p":5,"k":"G1","e":2.02,"v":2.7},{"p":5,"k":"G1","e":2.35,"v":0.7},{"p":5,"k":"G1","e":2.6,"v":0},{"p":5,"k":"G1","e":5,"v":0},
{"p":5,"k":"G2","e":-10,"v":0},{"p":5,"k":"G2","e":-8.66,"v":0},{"p":5,"k":"G2","e":-8.0,"v":2.7},{"p":5,"k":"G2","e":-6.85,"v":2},{"p":5,"k":"G2","e":-5.21,"v":2},{"p":5,"k":"G2","e":-3.57,"v":2.7},{"p":5,"k":"G2","e":-1.92,"v":2},{"p":5,"k":"G2","e":-0.94,"v":0.7},{"p":5,"k":"G2","e":-0.7,"v":0},{"p":5,"k":"G2","e":0.9,"v":0},{"p":5,"k":"G2","e":1.2,"v":0.7},{"p":5,"k":"G2","e":1.69,"v":1.3},{"p":5,"k":"G2","e":2.2,"v":0},{"p":5,"k":"G2","e":5,"v":0},
{"p":5,"k":"G3","e":-10,"v":0},{"p":5,"k":"G3","e":-8.8,"v":0},{"p":5,"k":"G3","e":-8.66,"v":-0.7},{"p":5,"k":"G3","e":-8.33,"v":-3},{"p":5,"k":"G3","e":-8.0,"v":-5.3},{"p":5,"k":"G3","e":-7.83,"v":-4},{"p":5,"k":"G3","e":-7.51,"v":-2.7},{"p":5,"k":"G3","e":-6.85,"v":-3},{"p":5,"k":"G3","e":-6.03,"v":-4},{"p":5,"k":"G3","e":-5.21,"v":-5.3},{"p":5,"k":"G3","e":-4.71,"v":-8.7},{"p":5,"k":"G3","e":-4.39,"v":-9.7},{"p":5,"k":"G3","e":-4.06,"v":-8},{"p":5,"k":"G3","e":-3.57,"v":-10.7},{"p":5,"k":"G3","e":-3.24,"v":-9.3},{"p":5,"k":"G3","e":-2.91,"v":-11.3},{"p":5,"k":"G3","e":-2.58,"v":-9.7},{"p":5,"k":"G3","e":-2.25,"v":-8},{"p":5,"k":"G3","e":-1.92,"v":-5.3},{"p":5,"k":"G3","e":-1.43,"v":-2.7},{"p":5,"k":"G3","e":-0.94,"v":-0.7},{"p":5,"k":"G3","e":-0.7,"v":0},{"p":5,"k":"G3","e":0.9,"v":0},{"p":5,"k":"G3","e":1.03,"v":-1.3},{"p":5,"k":"G3","e":1.69,"v":-2},{"p":5,"k":"G3","e":2.1,"v":-0.7},{"p":5,"k":"G3","e":2.4,"v":0},{"p":5,"k":"G3","e":5,"v":0},
{"p":5,"k":"G4","e":-10,"v":0},{"p":5,"k":"G4","e":-8.66,"v":0},{"p":5,"k":"G4","e":-8.49,"v":-1.3},{"p":5,"k":"G4","e":-7.67,"v":-2},{"p":5,"k":"G4","e":-6.85,"v":-1.7},{"p":5,"k":"G4","e":-6.03,"v":-2.3},{"p":5,"k":"G4","e":-5.21,"v":-3.3},{"p":5,"k":"G4","e":-4.39,"v":-4.7},{"p":5,"k":"G4","e":-3.57,"v":-4},{"p":5,"k":"G4","e":-2.74,"v":-3},{"p":5,"k":"G4","e":-1.92,"v":-2},{"p":5,"k":"G4","e":-1.1,"v":-0.7},{"p":5,"k":"G4","e":-0.8,"v":0},{"p":5,"k":"G4","e":0.9,"v":0},{"p":5,"k":"G4","e":1.2,"v":-0.7},{"p":5,"k":"G4","e":1.8,"v":-0.5},{"p":5,"k":"G4","e":2.3,"v":0},{"p":5,"k":"G4","e":5,"v":0},
{"p":7,"k":"R1","e":-10,"v":0},{"p":7,"k":"R1","e":-8.49,"v":0},{"p":7,"k":"R1","e":-8.0,"v":2.3},{"p":7,"k":"R1","e":-7.67,"v":3},{"p":7,"k":"R1","e":-7.18,"v":4},{"p":7,"k":"R1","e":-6.85,"v":7.3},{"p":7,"k":"R1","e":-6.69,"v":9},{"p":7,"k":"R1","e":-6.52,"v":8.3},{"p":7,"k":"R1","e":-6.36,"v":13},{"p":7,"k":"R1","e":-6.19,"v":16.3},{"p":7,"k":"R1","e":-6.11,"v":14},{"p":7,"k":"R1","e":-6.03,"v":11.7},{"p":7,"k":"R1","e":-5.86,"v":9},{"p":7,"k":"R1","e":-5.7,"v":7.3},{"p":7,"k":"R1","e":-5.54,"v":6.3},{"p":7,"k":"R1","e":-5.21,"v":5.7},{"p":7,"k":"R1","e":-4.71,"v":6.3},{"p":7,"k":"R1","e":-4.39,"v":7.3},{"p":7,"k":"R1","e":-4.06,"v":8.3},{"p":7,"k":"R1","e":-3.89,"v":9.7},{"p":7,"k":"R1","e":-3.57,"v":8.3},{"p":7,"k":"R1","e":-3.24,"v":10.7},{"p":7,"k":"R1","e":-2.91,"v":9},{"p":7,"k":"R1","e":-2.58,"v":7.3},{"p":7,"k":"R1","e":-2.25,"v":5.7},{"p":7,"k":"R1","e":-1.92,"v":4},{"p":7,"k":"R1","e":-1.59,"v":3},{"p":7,"k":"R1","e":-1.27,"v":1.7},{"p":7,"k":"R1","e":-0.94,"v":0.3},{"p":7,"k":"R1","e":-0.7,"v":0},{"p":7,"k":"R1","e":0.7,"v":0},{"p":7,"k":"R1","e":0.95,"v":1.3},{"p":7,"k":"R1","e":1.2,"v":1.7},{"p":7,"k":"R1","e":1.53,"v":0.7},{"p":7,"k":"R1","e":1.8,"v":0},{"p":7,"k":"R1","e":5,"v":0},
{"p":7,"k":"R2","e":-10,"v":0},{"p":7,"k":"R2","e":-8.66,"v":0},{"p":7,"k":"R2","e":-8.16,"v":-1},{"p":7,"k":"R2","e":-6.85,"v":-1},{"p":7,"k":"R2","e":-5.21,"v":-1.7},{"p":7,"k":"R2","e":-3.57,"v":-1.7},{"p":7,"k":"R2","e":-2.74,"v":-2},{"p":7,"k":"R2","e":-1.92,"v":-1},{"p":7,"k":"R2","e":-0.94,"v":-0.7},{"p":7,"k":"R2","e":-0.77,"v":0},{"p":7,"k":"R2","e":-0.61,"v":-2.7},{"p":7,"k":"R2","e":-0.5,"v":-12},{"p":7,"k":"R2","e":-0.45,"v":-22},{"p":7,"k":"R2","e":-0.41,"v":-31},{"p":7,"k":"R2","e":-0.36,"v":-22},{"p":7,"k":"R2","e":-0.28,"v":-6},{"p":7,"k":"R2","e":-0.2,"v":-2.7},{"p":7,"k":"R2","e":-0.12,"v":0},{"p":7,"k":"R2","e":2.18,"v":0},{"p":7,"k":"R2","e":2.35,"v":-4.3},{"p":7,"k":"R2","e":2.51,"v":-11},{"p":7,"k":"R2","e":2.67,"v":-17.7},{"p":7,"k":"R2","e":2.84,"v":-31},{"p":7,"k":"R2","e":3.0,"v":-20},{"p":7,"k":"R2","e":3.08,"v":-16},{"p":7,"k":"R2","e":3.17,"v":-13},{"p":7,"k":"R2","e":3.33,"v":-19},{"p":7,"k":"R2","e":3.5,"v":-18},{"p":7,"k":"R2","e":3.58,"v":-17.7},{"p":7,"k":"R2","e":3.66,"v":-11},{"p":7,"k":"R2","e":3.82,"v":-6},{"p":7,"k":"R2","e":3.99,"v":-4.3},{"p":7,"k":"R2","e":4.15,"v":-10},{"p":7,"k":"R2","e":4.27,"v":-31},{"p":7,"k":"R2","e":4.4,"v":-20},{"p":7,"k":"R2","e":4.48,"v":-11},{"p":7,"k":"R2","e":4.65,"v":-1},{"p":7,"k":"R2","e":4.81,"v":0},{"p":7,"k":"R2","e":5,"v":0},
{"p":7,"k":"G1","e":-10,"v":0},{"p":7,"k":"G1","e":-8.82,"v":0},{"p":7,"k":"G1","e":-8.49,"v":1},{"p":7,"k":"G1","e":-8.0,"v":3},{"p":7,"k":"G1","e":-7.51,"v":4},{"p":7,"k":"G1","e":-7.01,"v":5.7},{"p":7,"k":"G1","e":-6.69,"v":9},{"p":7,"k":"G1","e":-6.36,"v":11.7},{"p":7,"k":"G1","e":-6.19,"v":9.7},{"p":7,"k":"G1","e":-5.86,"v":7.3},{"p":7,"k":"G1","e":-5.37,"v":5.7},{"p":7,"k":"G1","e":-4.88,"v":5.7},{"p":7,"k":"G1","e":-4.39,"v":6.3},{"p":7,"k":"G1","e":-3.89,"v":8},{"p":7,"k":"G1","e":-3.57,"v":7},{"p":7,"k":"G1","e":-3.07,"v":7.7},{"p":7,"k":"G1","e":-2.58,"v":6.3},{"p":7,"k":"G1","e":-2.09,"v":6.3},{"p":7,"k":"G1","e":-1.59,"v":7},{"p":7,"k":"G1","e":-1.27,"v":7.7},{"p":7,"k":"G1","e":-1.02,"v":5.7},{"p":7,"k":"G1","e":-0.77,"v":1.7},{"p":7,"k":"G1","e":-0.53,"v":0},{"p":7,"k":"G1","e":0.54,"v":0},{"p":7,"k":"G1","e":0.87,"v":1.7},{"p":7,"k":"G1","e":1.2,"v":3},{"p":7,"k":"G1","e":1.53,"v":1.7},{"p":7,"k":"G1","e":1.85,"v":0.7},{"p":7,"k":"G1","e":2.1,"v":0},{"p":7,"k":"G1","e":5,"v":0},
{"p":7,"k":"G2","e":-10,"v":0},{"p":7,"k":"G2","e":-8.66,"v":0},{"p":7,"k":"G2","e":-8.49,"v":0.7},{"p":7,"k":"G2","e":-7.67,"v":1.7},{"p":7,"k":"G2","e":-6.85,"v":2.3},{"p":7,"k":"G2","e":-6.03,"v":3},{"p":7,"k":"G2","e":-5.21,"v":3},{"p":7,"k":"G2","e":-4.39,"v":3.7},{"p":7,"k":"G2","e":-3.57,"v":3},{"p":7,"k":"G2","e":-2.74,"v":3},{"p":7,"k":"G2","e":-1.92,"v":3.7},{"p":7,"k":"G2","e":-1.1,"v":3},{"p":7,"k":"G2","e":-0.77,"v":0.7},{"p":7,"k":"G2","e":-0.6,"v":0},{"p":7,"k":"G2","e":0.7,"v":0},{"p":7,"k":"G2","e":1.0,"v":1.3},{"p":7,"k":"G2","e":1.69,"v":2.3},{"p":7,"k":"G2","e":2.02,"v":0.7},{"p":7,"k":"G2","e":2.3,"v":0},{"p":7,"k":"G2","e":5,"v":0},
{"p":7,"k":"G3","e":-10,"v":0},{"p":7,"k":"G3","e":-8.82,"v":0},{"p":7,"k":"G3","e":-8.66,"v":-0.7},{"p":7,"k":"G3","e":-8.33,"v":-2.7},{"p":7,"k":"G3","e":-8.0,"v":-3.7},{"p":7,"k":"G3","e":-7.75,"v":-7},{"p":7,"k":"G3","e":-7.51,"v":-4.3},{"p":7,"k":"G3","e":-7.18,"v":-5},{"p":7,"k":"G3","e":-6.85,"v":-3.7},{"p":7,"k":"G3","e":-6.03,"v":-4.3},{"p":7,"k":"G3","e":-5.21,"v":-5},{"p":7,"k":"G3","e":-4.71,"v":-7},{"p":7,"k":"G3","e":-4.39,"v":-9.3},{"p":7,"k":"G3","e":-3.89,"v":-11},{"p":7,"k":"G3","e":-3.57,"v":-10.3},{"p":7,"k":"G3","e":-3.24,"v":-8.3},{"p":7,"k":"G3","e":-2.91,"v":-11},{"p":7,"k":"G3","e":-2.58,"v":-9.3},{"p":7,"k":"G3","e":-2.25,"v":-6},{"p":7,"k":"G3","e":-1.92,"v":-4.3},{"p":7,"k":"G3","e":-1.43,"v":-2.3},{"p":7,"k":"G3","e":-0.94,"v":-1},{"p":7,"k":"G3","e":-0.45,"v":-0.3},{"p":7,"k":"G3","e":-0.3,"v":0},{"p":7,"k":"G3","e":0.7,"v":0},{"p":7,"k":"G3","e":1.0,"v":-0.7},{"p":7,"k":"G3","e":1.7,"v":-1.3},{"p":7,"k":"G3","e":2.4,"v":-1},{"p":7,"k":"G3","e":3.0,"v":-1.3},{"p":7,"k":"G3","e":3.8,"v":-0.7},{"p":7,"k":"G3","e":4.3,"v":-0.3},{"p":7,"k":"G3","e":5,"v":0},
{"p":7,"k":"G4","e":-10,"v":0},{"p":7,"k":"G4","e":-8.66,"v":0},{"p":7,"k":"G4","e":-8.49,"v":-1},{"p":7,"k":"G4","e":-7.67,"v":-2},{"p":7,"k":"G4","e":-6.85,"v":-2},{"p":7,"k":"G4","e":-6.03,"v":-2.7},{"p":7,"k":"G4","e":-5.21,"v":-3},{"p":7,"k":"G4","e":-4.39,"v":-4.3},{"p":7,"k":"G4","e":-3.57,"v":-3.7},{"p":7,"k":"G4","e":-2.74,"v":-3},{"p":7,"k":"G4","e":-1.92,"v":-2.3},{"p":7,"k":"G4","e":-1.1,"v":-1},{"p":7,"k":"G4","e":-0.8,"v":0},{"p":7,"k":"G4","e":0.9,"v":0},{"p":7,"k":"G4","e":1.5,"v":-0.5},{"p":7,"k":"G4","e":2.5,"v":0},{"p":7,"k":"G4","e":5,"v":0},
{"p":9,"k":"B1","e":-10,"v":0},{"p":9,"k":"B1","e":-8.98,"v":0},{"p":9,"k":"B1","e":-8.66,"v":1.3},{"p":9,"k":"B1","e":-8.49,"v":3.7},{"p":9,"k":"B1","e":-8.41,"v":12},{"p":9,"k":"B1","e":-8.33,"v":25.3},{"p":9,"k":"B1","e":-8.24,"v":23.7},{"p":9,"k":"B1","e":-8.16,"v":22},{"p":9,"k":"B1","e":-8.04,"v":25.3},{"p":9,"k":"B1","e":-7.96,"v":23.7},{"p":9,"k":"B1","e":-7.92,"v":20.3},{"p":9,"k":"B1","e":-7.83,"v":22},{"p":9,"k":"B1","e":-7.67,"v":18.7},{"p":9,"k":"B1","e":-7.59,"v":15.3},{"p":9,"k":"B1","e":-7.51,"v":17},{"p":9,"k":"B1","e":-7.34,"v":13.7},{"p":9,"k":"B1","e":-7.26,"v":15.3},{"p":9,"k":"B1","e":-7.1,"v":12},{"p":9,"k":"B1","e":-7.01,"v":13.7},{"p":9,"k":"B1","e":-6.85,"v":10.3},{"p":9,"k":"B1","e":-6.69,"v":8},{"p":9,"k":"B1","e":-6.52,"v":6},{"p":9,"k":"B1","e":-6.36,"v":4.7},{"p":9,"k":"B1","e":-6.19,"v":5.3},{"p":9,"k":"B1","e":-6.03,"v":3.7},{"p":9,"k":"B1","e":-5.54,"v":2.7},{"p":9,"k":"B1","e":-5.21,"v":3.3},{"p":9,"k":"B1","e":-4.39,"v":3.3},{"p":9,"k":"B1","e":-3.57,"v":3.3},{"p":9,"k":"B1","e":-2.74,"v":3.3},{"p":9,"k":"B1","e":-2.25,"v":3},{"p":9,"k":"B1","e":-1.92,"v":2},{"p":9,"k":"B1","e":-1.27,"v":1.3},{"p":9,"k":"B1","e":-0.61,"v":0.3},{"p":9,"k":"B1","e":-0.28,"v":0},{"p":9,"k":"B1","e":0.7,"v":0},{"p":9,"k":"B1","e":1.03,"v":1.3},{"p":9,"k":"B1","e":1.36,"v":1},{"p":9,"k":"B1","e":1.69,"v":0.5},{"p":9,"k":"B1","e":2.0,"v":0},{"p":9,"k":"B1","e":5,"v":0},
{"p":9,"k":"B2","e":-10,"v":0},{"p":9,"k":"B2","e":-8.82,"v":0},{"p":9,"k":"B2","e":-8.49,"v":-1.3},{"p":9,"k":"B2","e":-7.67,"v":-1.7},{"p":9,"k":"B2","e":-6.85,"v":-2},{"p":9,"k":"B2","e":-6.03,"v":-2},{"p":9,"k":"B2","e":-5.21,"v":-2.7},{"p":9,"k":"B2","e":-4.39,"v":-3.3},{"p":9,"k":"B2","e":-3.57,"v":-3},{"p":9,"k":"B2","e":-2.74,"v":-2.3},{"p":9,"k":"B2","e":-1.92,"v":-1.3},{"p":9,"k":"B2","e":-1.1,"v":-1},{"p":9,"k":"B2","e":-0.28,"v":-0.7},{"p":9,"k":"B2","e":0.2,"v":0},{"p":9,"k":"B2","e":0.38,"v":-0.7},{"p":9,"k":"B2","e":0.54,"v":-4},{"p":9,"k":"B2","e":0.7,"v":-7.3},{"p":9,"k":"B2","e":0.87,"v":-8},{"p":9,"k":"B2","e":1.03,"v":-14.7},{"p":9,"k":"B2","e":1.16,"v":-24.7},{"p":9,"k":"B2","e":1.28,"v":-31.3},{"p":9,"k":"B2","e":1.44,"v":-30.7},{"p":9,"k":"B2","e":1.61,"v":-21.3},{"p":9,"k":"B2","e":1.72,"v":-11.3},{"p":9,"k":"B2","e":1.85,"v":-7.3},{"p":9,"k":"B2","e":1.98,"v":-14.7},{"p":9,"k":"B2","e":2.1,"v":-23},{"p":9,"k":"B2","e":2.21,"v":-18},{"p":9,"k":"B2","e":2.31,"v":-9.7},{"p":9,"k":"B2","e":2.43,"v":-3},{"p":9,"k":"B2","e":2.51,"v":-0.7},{"p":9,"k":"B2","e":2.7,"v":0},{"p":9,"k":"B2","e":5,"v":0},
{"p":9,"k":"G1","e":-10,"v":0},{"p":9,"k":"G1","e":-8.82,"v":0},{"p":9,"k":"G1","e":-8.49,"v":2.7},{"p":9,"k":"G1","e":-8.33,"v":5.3},{"p":9,"k":"G1","e":-8.0,"v":7},{"p":9,"k":"G1","e":-7.51,"v":6},{"p":9,"k":"G1","e":-6.85,"v":4.7},{"p":9,"k":"G1","e":-6.03,"v":3.7},{"p":9,"k":"G1","e":-5.21,"v":4.7},{"p":9,"k":"G1","e":-4.39,"v":6},{"p":9,"k":"G1","e":-3.89,"v":7.3},{"p":9,"k":"G1","e":-3.57,"v":8.7},{"p":9,"k":"G1","e":-3.24,"v":8},{"p":9,"k":"G1","e":-2.91,"v":7.3},{"p":9,"k":"G1","e":-2.58,"v":8},{"p":9,"k":"G1","e":-2.41,"v":7},{"p":9,"k":"G1","e":-2.25,"v":5.3},{"p":9,"k":"G1","e":-1.92,"v":4.7},{"p":9,"k":"G1","e":-1.59,"v":3.7},{"p":9,"k":"G1","e":-1.1,"v":2},{"p":9,"k":"G1","e":-0.61,"v":0.7},{"p":9,"k":"G1","e":-0.28,"v":0},{"p":9,"k":"G1","e":0.7,"v":0},{"p":9,"k":"G1","e":1.03,"v":2},{"p":9,"k":"G1","e":1.36,"v":2.7},{"p":9,"k":"G1","e":1.69,"v":2},{"p":9,"k":"G1","e":2.02,"v":2.7},{"p":9,"k":"G1","e":2.18,"v":0.7},{"p":9,"k":"G1","e":2.35,"v":0},{"p":9,"k":"G1","e":5,"v":0},
{"p":9,"k":"G2","e":-10,"v":0},{"p":9,"k":"G2","e":-8.66,"v":0},{"p":9,"k":"G2","e":-8.49,"v":1.3},{"p":9,"k":"G2","e":-7.67,"v":2.7},{"p":9,"k":"G2","e":-6.85,"v":2},{"p":9,"k":"G2","e":-5.21,"v":2},{"p":9,"k":"G2","e":-3.57,"v":2.7},{"p":9,"k":"G2","e":-2.74,"v":3.3},{"p":9,"k":"G2","e":-2.25,"v":4.7},{"p":9,"k":"G2","e":-1.92,"v":2.7},{"p":9,"k":"G2","e":-1.1,"v":1.3},{"p":9,"k":"G2","e":-0.45,"v":0.3},{"p":9,"k":"G2","e":-0.2,"v":0},{"p":9,"k":"G2","e":0.9,"v":0},{"p":9,"k":"G2","e":1.2,"v":1.3},{"p":9,"k":"G2","e":1.69,"v":0.7},{"p":9,"k":"G2","e":2.0,"v":0},{"p":9,"k":"G2","e":5,"v":0},
{"p":9,"k":"G3","e":-10,"v":0},{"p":9,"k":"G3","e":-8.9,"v":0},{"p":9,"k":"G3","e":-8.82,"v":-0.3},{"p":9,"k":"G3","e":-8.33,"v":-3},{"p":9,"k":"G3","e":-8.0,"v":-4.7},{"p":9,"k":"G3","e":-7.67,"v":-3},{"p":9,"k":"G3","e":-6.85,"v":-4},{"p":9,"k":"G3","e":-6.03,"v":-4.7},{"p":9,"k":"G3","e":-5.21,"v":-6.3},{"p":9,"k":"G3","e":-4.71,"v":-9.7},{"p":9,"k":"G3","e":-4.39,"v":-13},{"p":9,"k":"G3","e":-4.06,"v":-10.7},{"p":9,"k":"G3","e":-3.57,"v":-9.7},{"p":9,"k":"G3","e":-3.07,"v":-10.7},{"p":9,"k":"G3","e":-2.74,"v":-8},{"p":9,"k":"G3","e":-2.41,"v":-7.3},{"p":9,"k":"G3","e":-1.92,"v":-5.3},{"p":9,"k":"G3","e":-1.43,"v":-2.7},{"p":9,"k":"G3","e":-0.94,"v":-1.3},{"p":9,"k":"G3","e":-0.28,"v":-0.7},{"p":9,"k":"G3","e":0.0,"v":0},{"p":9,"k":"G3","e":0.7,"v":0},{"p":9,"k":"G3","e":1.03,"v":-1.3},{"p":9,"k":"G3","e":1.36,"v":-2.3},{"p":9,"k":"G3","e":1.69,"v":-2.7},{"p":9,"k":"G3","e":2.02,"v":-2.3},{"p":9,"k":"G3","e":2.35,"v":-1.3},{"p":9,"k":"G3","e":2.67,"v":-0.3},{"p":9,"k":"G3","e":3.0,"v":0},{"p":9,"k":"G3","e":5,"v":0},
{"p":9,"k":"G4","e":-10,"v":0},{"p":9,"k":"G4","e":-8.66,"v":0},{"p":9,"k":"G4","e":-8.49,"v":-1.3},{"p":9,"k":"G4","e":-7.67,"v":-2},{"p":9,"k":"G4","e":-6.85,"v":-2.7},{"p":9,"k":"G4","e":-6.03,"v":-3.3},{"p":9,"k":"G4","e":-5.21,"v":-4.7},{"p":9,"k":"G4","e":-4.39,"v":-7.3},{"p":9,"k":"G4","e":-3.57,"v":-6},{"p":9,"k":"G4","e":-2.74,"v":-4.7},{"p":9,"k":"G4","e":-1.92,"v":-3.3},{"p":9,"k":"G4","e":-1.1,"v":-1.3},{"p":9,"k":"G4","e":-0.6,"v":-0.3},{"p":9,"k":"G4","e":-0.3,"v":0},{"p":9,"k":"G4","e":1.0,"v":0},{"p":9,"k":"G4","e":1.5,"v":-0.7},{"p":9,"k":"G4","e":2.2,"v":-0.3},{"p":9,"k":"G4","e":2.6,"v":0},{"p":9,"k":"G4","e":5,"v":0}
]
},
"layer":[
{"data":{"name":"zero"},
 "mark":{"type":"rule","stroke":"#c4c4c4","strokeDash":[1,1.5],"strokeWidth":1},
 "encoding":{"x":{"field":"e","type":"quantitative","scale":{"domain":[-10,5],"nice":false,"zero":false},
   "axis":{"orient":"top","title":null,"labels":false,"domain":false,"tickSize":-3,"tickColor":"#9a9a9a","values":[-8,-6,-4,-2,0,2,4]}}}},
{"data":{"name":"dos"},
 "transform":[{"calculate":"datum.v + (9 - datum.p) * 26.5","as":"y"}],
 "mark":{"type":"line","strokeWidth":1.3},
 "encoding":{
  "x":{"field":"e","type":"quantitative","scale":{"domain":[-10,5],"nice":false,"zero":false},
   "axis":{"orient":"bottom","title":"E-EF (eV)","values":[-10,-8,-6,-4,-2,0,2,4],"tickSize":3,"tickColor":"#9a9a9a","domain":false,"labelFontSize":10,"labelColor":"#333333","labelFlush":false,"labelOverlap":false,"labelPadding":1,"labelExpr":"'' + datum.value","titleFontSize":11,"titleFontWeight":"normal","titleColor":"#333333","titlePadding":0}},
  "y":{"field":"y","type":"quantitative","scale":{"domain":[-42,245],"nice":false,"zero":false},
   "axis":{"title":"DOS","labels":false,"ticks":false,"domain":false,"titleFontSize":10,"titleFontWeight":"normal","titleColor":"#333333","titlePadding":4}},
  "color":{"field":"k","type":"nominal","scale":{"domain":["B1","B2","R1","R2","G1","G2","G3","G4","T","GT"],"range":["#2a1cf2","#2a1cf2","#f0161e","#f0161e","#4a4a4a","#4a4a4a","#4a4a4a","#4a4a4a","#1a1a1a","#5e5e5e"]},"legend":null},
  "detail":{"field":"p"}
 }},
{"data":{"name":"panels"},
 "transform":[{"calculate":"(9 - datum.p) * 26.5","as":"y"}],
 "mark":{"type":"rule","stroke":"#3c3c3c","strokeWidth":1.4},
 "encoding":{"y":{"field":"y","type":"quantitative","scale":{"domain":[-42,245],"nice":false,"zero":false},
   "axis":{"title":"DOS","labels":false,"ticks":false,"domain":false,"titleFontSize":10,"titleFontWeight":"normal","titleColor":"#333333","titlePadding":4}}}},
{"data":{"name":"notes"},
 "transform":[{"filter":"datum.z == 'n'"},{"calculate":"datum.v + (9 - datum.p) * 26.5","as":"y"}],
 "mark":{"type":"text","align":"left","baseline":"middle","fontSize":10},
 "encoding":{
  "x":{"field":"e","type":"quantitative","axis":null},
  "y":{"field":"y","type":"quantitative","scale":{"domain":[-42,245],"nice":false,"zero":false},
   "axis":{"title":"DOS","labels":false,"ticks":false,"domain":false,"titleFontSize":10,"titleFontWeight":"normal","titleColor":"#333333","titlePadding":4}},
  "text":{"field":"t"},
  "color":{"field":"k","type":"nominal","scale":{"domain":["B1","B2","R1","R2","G1","G2","G3","G4","T","GT"],"range":["#2a1cf2","#2a1cf2","#f0161e","#f0161e","#4a4a4a","#4a4a4a","#4a4a4a","#4a4a4a","#1a1a1a","#5e5e5e"]},"legend":null}
 }},
{"data":{"name":"notes"},
 "transform":[{"filter":"datum.z == 's'"},{"calculate":"datum.v + (9 - datum.p) * 26.5","as":"y"}],
 "mark":{"type":"text","align":"left","baseline":"middle","fontSize":7,"dy":3},
 "encoding":{
  "x":{"field":"e","type":"quantitative","axis":null},
  "y":{"field":"y","type":"quantitative","scale":{"domain":[-42,245],"nice":false,"zero":false},
   "axis":{"title":"DOS","labels":false,"ticks":false,"domain":false,"titleFontSize":10,"titleFontWeight":"normal","titleColor":"#333333","titlePadding":4}},
  "text":{"field":"t"},
  "color":{"field":"k","type":"nominal","scale":{"domain":["B1","B2","R1","R2","G1","G2","G3","G4","T","GT"],"range":["#2a1cf2","#2a1cf2","#f0161e","#f0161e","#4a4a4a","#4a4a4a","#4a4a4a","#4a4a4a","#1a1a1a","#5e5e5e"]},"legend":null}
 }},
{"data":{"name":"notes"},
 "transform":[{"filter":"datum.z == 'u'"},{"calculate":"datum.v + (9 - datum.p) * 26.5","as":"y"}],
 "mark":{"type":"text","align":"left","baseline":"middle","fontSize":7,"dy":-3},
 "encoding":{
  "x":{"field":"e","type":"quantitative","axis":null},
  "y":{"field":"y","type":"quantitative","scale":{"domain":[-42,245],"nice":false,"zero":false},
   "axis":{"title":"DOS","labels":false,"ticks":false,"domain":false,"titleFontSize":10,"titleFontWeight":"normal","titleColor":"#333333","titlePadding":4}},
  "text":{"field":"t"},
  "color":{"field":"k","type":"nominal","scale":{"domain":["B1","B2","R1","R2","G1","G2","G3","G4","T","GT"],"range":["#2a1cf2","#2a1cf2","#f0161e","#f0161e","#4a4a4a","#4a4a4a","#4a4a4a","#4a4a4a","#1a1a1a","#5e5e5e"]},"legend":null}
 }}
],
"resolve":{"axis":{"x":"independent"}}
}
